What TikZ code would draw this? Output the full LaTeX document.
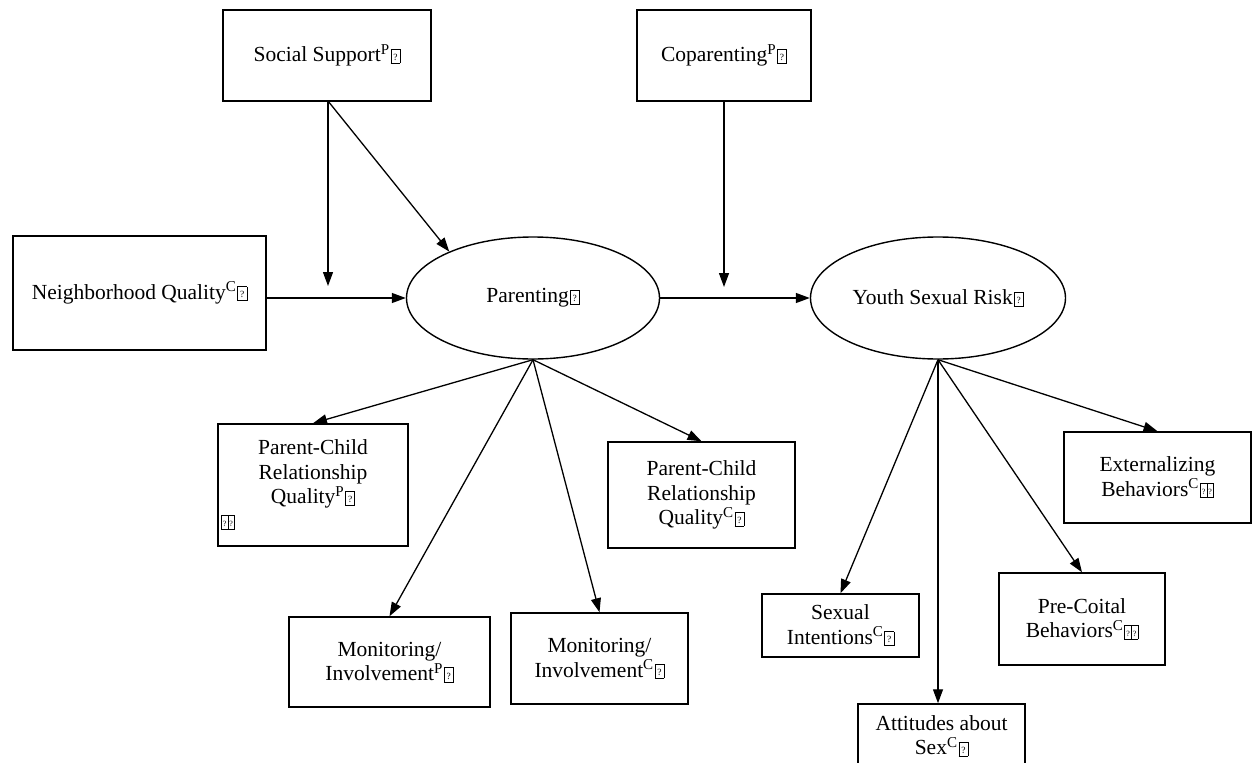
\documentclass[tikz,border=0pt]{standalone}
\usepackage{fontspec}
\setmainfont{Liberation Serif}
\usetikzlibrary{arrows.meta,shapes.geometric}

% placeholder glyph boxes printed after the labels
\newcommand{\qbox}{{\setlength{\fboxsep}{0pt}\setlength{\fboxrule}{0.6pt}%
  \kern1pt\fbox{\makebox[8.5pt]{\rule[-1pt]{0pt}{13.5pt}\raisebox{1.5pt}{\fontsize{9.5}{9.5}\selectfont ?}}}}}
\newcommand{\qboxnarrow}{{\setlength{\fboxsep}{0pt}\setlength{\fboxrule}{0.6pt}%
  \fbox{\makebox[6pt]{\rule[-1pt]{0pt}{13.5pt}\raisebox{1.5pt}{\fontsize{8}{8}\selectfont ?}}}}}
\newcommand{\qboxpair}{\kern1pt\qboxnarrow\kern-0.6pt\qboxnarrow}

\begin{document}
\begin{tikzpicture}[x=1pt,y=-1pt,
  lbl/.style={font=\fontsize{21.5}{24.5}\selectfont},
  box/.style={lbl, draw, line width=1.5pt, inner sep=0pt, align=center},
  oval/.style={lbl, ellipse, draw, line width=1.4pt, inner sep=0pt},
  arr/.style={line width=1.3pt, -{Triangle[length=14pt,width=10pt]}}]

\path[use as bounding box, fill=white] (0,0) rectangle (1254,763);

% antecedents
\node[box, minimum width=208pt, minimum height=91pt] (soc) at (327,55.5)
  {Social Support\textsuperscript{P}\qbox};
\node[box, minimum width=174pt, minimum height=91pt] (cop) at (724,55.5)
  {Coparenting\textsuperscript{P}\qbox};
\node[box, minimum width=253pt, minimum height=114pt] (nbh) at (139.5,293)
  {Neighborhood Quality\textsuperscript{C}\qbox};

% latent constructs
\node[oval, minimum width=253pt, minimum height=122pt] (par) at (533,298)
  {Parenting\qbox};
\node[oval, minimum width=255pt, minimum height=122pt] (ysr) at (938,298)
  {Youth Sexual Risk\qbox};

% parenting indicators
\node[box, text width=190pt, minimum height=122pt] (pcp) at (313,485)
  {Parent-Child\\Relationship\\Quality\textsuperscript{P}\qbox\\\makebox[186pt][l]{\qboxpair}};
\node[box, minimum width=187pt, minimum height=106pt] (pcc) at (701.5,495)
  {Parent-Child\\Relationship\\Quality\textsuperscript{C}\qbox};
\node[box, minimum width=201pt, minimum height=90pt] (mip) at (389.5,662)
  {Monitoring/\\Involvement\textsuperscript{P}\qbox};
\node[box, minimum width=177pt, minimum height=91pt] (mic) at (599.5,658.5)
  {Monitoring/\\Involvement\textsuperscript{C}\qbox};

% youth sexual risk indicators
\node[box, minimum width=187pt, minimum height=91pt] (ext) at (1157.5,477.5)
  {Externalizing\\Behaviors\textsuperscript{C}\qboxpair};
\node[box, minimum width=157pt, minimum height=63pt] (sxi) at (840.5,625.5)
  {Sexual\\Intentions\textsuperscript{C}\qbox};
\node[box, minimum width=166pt, minimum height=92pt] (pcb) at (1082,619)
  {Pre-Coital\\Behaviors\textsuperscript{C}\qboxpair};
\node[box, minimum width=167pt, minimum height=64pt] (att) at (941.5,736)
  {Attitudes about\\Sex\textsuperscript{C}\qbox};

% moderation end points on the paths
\coordinate (sfoot) at (328,101);
\coordinate (mod1) at (328,286);
\coordinate (mod2) at (724,287);

% paths
\draw[arr] (nbh.east |- par.west) -- (par.west);
\draw[arr] (sfoot) -- (mod1);
\draw[arr] (sfoot) -- (par.151);
\draw[arr] (cop.south) -- (mod2);
\draw[arr] (par.east) -- (ysr.west);

\draw[arr] (par.south) -- (pcp.north);
\draw[arr] (par.south) -- (mip.north);
\draw[arr] (par.south) -- (mic.north);
\draw[arr] (par.south) -- (pcc.north);

\draw[arr] (ysr.south) -- (sxi.north);
\draw[arr] (ysr.south) -- (ysr.south |- att.north);
\draw[arr] (ysr.south) -- (pcb.north);
\draw[arr] (ysr.south) -- (ext.north);
\end{tikzpicture}
\end{document}
